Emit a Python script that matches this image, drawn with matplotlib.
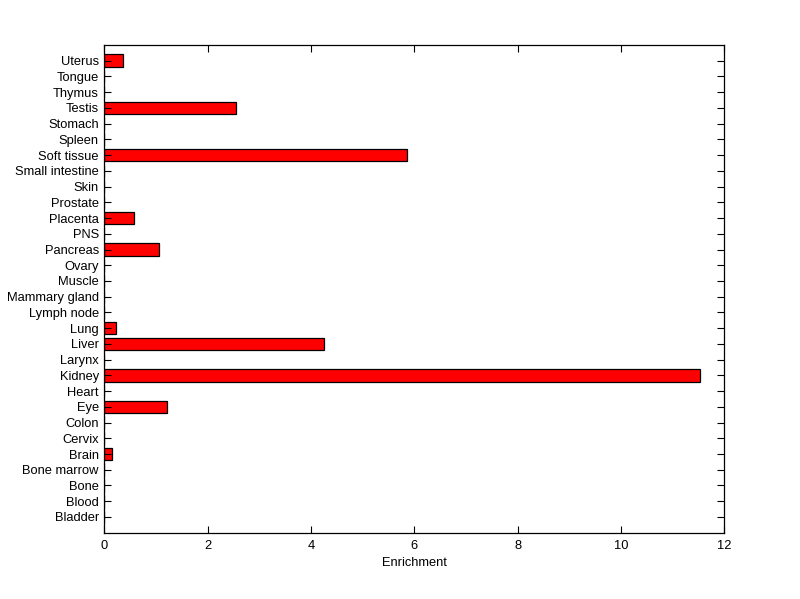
import matplotlib
matplotlib.use("Agg")
import matplotlib.pyplot as plt

categories = ["Bladder", "Blood", "Bone", "Bone marrow", "Brain", "Cervix", "Colon",
              "Eye", "Heart", "Kidney", "Larynx", "Liver", "Lung", "Lymph node",
              "Mammary gland", "Muscle", "Ovary", "Pancreas", "PNS", "Placenta",
              "Prostate", "Skin", "Small intestine", "Soft tissue", "Spleen",
              "Stomach", "Testis", "Thymus", "Tongue", "Uterus"]
values = [0, 0, 0, 0, 0.14, 0, 0, 1.22, 0, 11.53, 0, 4.25, 0.23, 0, 0, 0, 0,
          1.05, 0, 0.58, 0, 0, 0, 5.85, 0, 0, 2.54, 0, 0, 0.37]
xticks = [0, 2, 4, 6, 8, 10, 12]

plt.rcParams['font.family'] = ['Liberation Sans', 'DejaVu Sans']
fig = plt.figure(figsize=(8, 5.99), dpi=100)
fig.patch.set_facecolor('white')
ax = fig.add_axes([0.1304, 0.1107, 0.775, 0.8142])

pos = list(range(1, len(categories) + 1))
ax.barh(pos, values, height=0.8, color='#ff0000', edgecolor='black', linewidth=0.9)

fs = 9.3
ax.set_xlim(0, 12)
ax.set_ylim(0, len(categories) + 1)
ax.set_xticks(xticks)
ax.set_xticklabels([str(t) for t in xticks], fontsize=fs)
ax.set_yticks(pos)
ax.set_yticklabels(categories, fontsize=fs)
ax.tick_params(direction='in', length=5, width=0.8, top=True, right=True, pad=4)
ax.tick_params(axis='x', pad=5)
for s in ax.spines.values():
    s.set_linewidth(0.9)
ax.set_xlabel("Enrichment", fontsize=fs, labelpad=4)

fig.savefig("out.png", dpi=100, facecolor='white')
